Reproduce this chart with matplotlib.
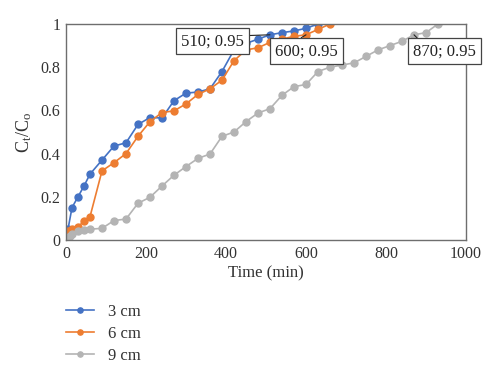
import matplotlib
matplotlib.use("Agg")
import matplotlib.pyplot as plt

# breakthrough data
t_3cm = [0, 5, 15, 30, 45, 60, 90, 120, 150, 180, 210, 240, 270, 300, 330,
         360, 390, 420, 450, 480, 510, 540, 570, 600, 630]
c_3cm = [0, 0.05, 0.15, 0.20, 0.25, 0.305, 0.37, 0.435, 0.45, 0.535, 0.567,
         0.565, 0.645, 0.68, 0.685, 0.70, 0.78, 0.88, 0.91, 0.93, 0.95, 0.96,
         0.968, 0.98, 1.0]

t_6cm = [0, 5, 15, 30, 45, 60, 90, 120, 150, 180, 210, 240, 270, 300, 330,
         360, 390, 420, 450, 480, 510, 540, 570, 600, 630, 660]
c_6cm = [0.02, 0.04, 0.05, 0.058, 0.09, 0.108, 0.32, 0.358, 0.40, 0.48, 0.548,
         0.59, 0.598, 0.63, 0.674, 0.70, 0.74, 0.83, 0.88, 0.89, 0.915, 0.93,
         0.943, 0.95, 0.975, 1.0]

t_9cm = [0, 5, 10, 15, 30, 45, 60, 90, 120, 150, 180, 210, 240, 270, 300, 330,
         360, 390, 420, 450, 480, 510, 540, 570, 600, 630, 660, 690, 720, 750,
         780, 810, 840, 870, 900, 930]
c_9cm = [0, 0.01, 0.02, 0.03, 0.043, 0.046, 0.05, 0.054, 0.09, 0.097, 0.17,
         0.198, 0.25, 0.30, 0.34, 0.378, 0.398, 0.48, 0.50, 0.548, 0.588, 0.608,
         0.67, 0.71, 0.72, 0.78, 0.80, 0.81, 0.82, 0.85, 0.88, 0.90, 0.92, 0.95,
         0.96, 1.0]

labels = ["3 cm", "6 cm", "9 cm"]
colors = ["#4472C4", "#ED7D31", "#B4B4B4"]

# breakpoint labels: (point x, point y, text x, text y, leader start)
notes = [(510, 0.95, 367, 0.92, (1.0, 0.85)),
         (600, 0.95, 602, 0.874, (0.27, 1.0)),
         (870, 0.95, 946, 0.874, (0.15, 1.0))]

plt.rcParams["font.family"] = ["Liberation Serif", "DejaVu Serif"]
plt.rcParams["mathtext.fontset"] = "custom"
plt.rcParams["mathtext.rm"] = "Liberation Serif"

fig = plt.figure(figsize=(5, 3.75), dpi=100)
ax = fig.add_axes([0.132, 0.36, 0.8, 0.576])

for t, c, lab, col in zip([t_3cm, t_6cm, t_9cm], [c_3cm, c_6cm, c_9cm],
                          labels, colors):
    ax.plot(t, c, color=col, lw=1.2, marker="o", ms=5, label=lab)

for px, py, tx, ty, rp in notes:
    ax.annotate(f"{px}; {py:.2f}", xy=(px, py), xytext=(tx, ty),
                ha="center", va="center", fontsize=12, color="#222222",
                bbox=dict(boxstyle="square,pad=0.3", fc="white",
                          ec="#444444", lw=0.9),
                arrowprops=dict(arrowstyle="-", color="#222222", lw=0.8,
                                relpos=rp, shrinkA=0, shrinkB=0))

ax.set_xlim(0, 1000)
ax.set_ylim(0, 1)
ax.set_xticks([0, 200, 400, 600, 800, 1000])
ax.set_yticks([0, 0.2, 0.4, 0.6, 0.8, 1])
ax.set_yticklabels(["0", "0.2", "0.4", "0.6", "0.8", "1"])
ax.tick_params(axis="both", length=0, labelsize=11.5, colors="#333333", pad=4)
for s in ax.spines.values():
    s.set_color("#6E6E6E")
    s.set_linewidth(1.0)

ax.set_xlabel("Time (min)", fontsize=12, color="#333333", labelpad=3)
ax.set_ylabel(r"$\mathrm{C_t/C_o}$", fontsize=13, color="#333333", labelpad=5)

fig.legend(loc="upper left", bbox_to_anchor=(0.132, 0.19), frameon=False,
           fontsize=12, borderpad=0, borderaxespad=0, handlelength=1.7,
           handletextpad=0.8, labelspacing=0.36, labelcolor="#333333",
           markerscale=0.75)

fig.savefig("out.png", dpi=100)
